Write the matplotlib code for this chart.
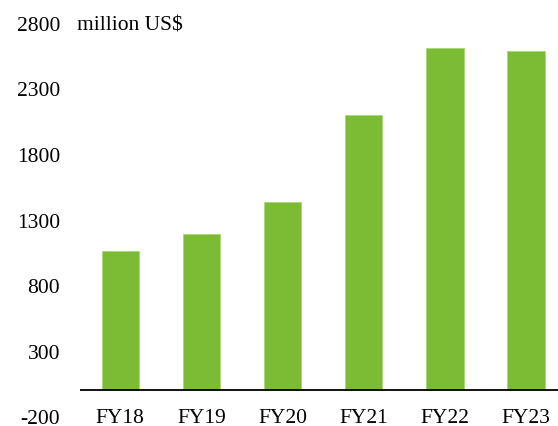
import matplotlib
matplotlib.use("Agg")
import matplotlib.pyplot as plt

# Annual figures, million US$
years = ["FY18", "FY19", "FY20", "FY21", "FY22", "FY23"]
values = [1063, 1188, 1434, 2099, 2605, 2582]
y_ticks = [-200, 300, 800, 1300, 1800, 2300, 2800]

bar_color = "#7CBC34"
edge_color = "#A9D67A"

plt.rcParams["font.family"] = ["Liberation Serif", "DejaVu Serif"]
FS = 15.5

fig = plt.figure(figsize=(5.58, 4.27), dpi=100)
ax = fig.add_axes([80 / 558, 9.5 / 427, 478 / 558, 393.8 / 427])

x = list(range(len(years)))
ax.bar(x, values, width=0.462, color=bar_color, edgecolor=edge_color,
       linewidth=0.6, zorder=2)
ax.axhline(0, color="black", linewidth=1.3, zorder=3)

ax.set_xlim(-0.497, 5.394)
ax.set_ylim(-200, 2800)
ax.set_yticks(y_ticks)
ax.set_yticklabels([str(v) for v in y_ticks], fontsize=FS)
ax.set_xticks(x)
ax.set_xticklabels(years, fontsize=FS)

for side in ["top", "right", "left", "bottom"]:
    ax.spines[side].set_visible(False)
ax.tick_params(axis="y", length=0, pad=14.4)
ax.tick_params(axis="x", length=0, pad=-1)
for lbl in ax.get_xticklabels():
    lbl.set_va("center_baseline")
for lbl in ax.get_yticklabels():
    lbl.set_va("center_baseline")

ax.text(-0.497 - 3 / 81.15, 2800, "million US$", fontsize=FS,
        ha="left", va="center_baseline")

fig.savefig("out.png", dpi=100)
